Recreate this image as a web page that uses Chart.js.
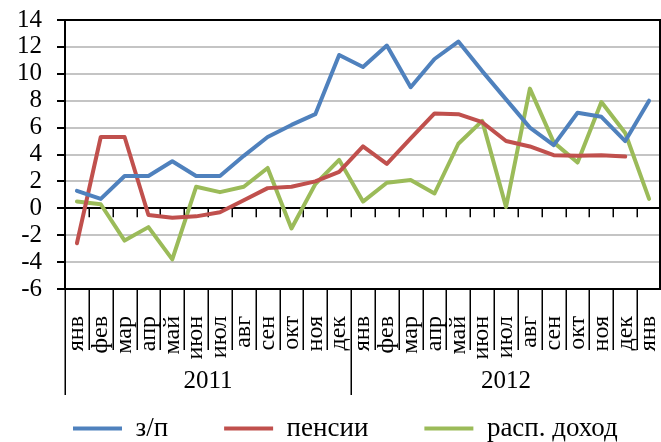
<!DOCTYPE html>
<html lang="ru">
<head>
<meta charset="utf-8">
<title>з/п, пенсии, расп. доход</title>
<script src="https://cdn.jsdelivr.net/npm/chart.js@4.4.1/dist/chart.umd.min.js"></script>
<style>
  html, body { margin: 0; padding: 0; background: #fff; }
  #wrap { width: 661px; height: 442px; }
</style>
</head>
<body>
<div id="wrap"><canvas id="chart"></canvas></div>
<script>
// Месяцы (янв 2011 - янв 2013)
const months = ['янв', 'фев', 'мар', 'апр', 'май', 'июн', 'июл', 'авг', 'сен', 'окт', 'ноя', 'дек',
                'янв', 'фев', 'мар', 'апр', 'май', 'июн', 'июл', 'авг', 'сен', 'окт', 'ноя', 'дек', 'янв'];
// Группы по годам: подпись, первый и последний индекс месяца
const years = ['2011', '2012'];
const yearFirst = [0, 12];
const yearLast = [11, 24];

// Значения рядов, %
const zp = [1.3, 0.7, 2.4, 2.4, 3.5, 2.4, 2.4, 3.9, 5.3, 6.2, 7.0, 11.4,
            10.5, 12.1, 9.0, 11.1, 12.4, 10.2, 8.1, 6.0, 4.7, 7.1, 6.8, 5.0, 8.0];
const pensii = [-2.6, 5.3, 5.3, -0.5, -0.7, -0.6, -0.3, 0.6, 1.5, 1.6, 2.0, 2.7,
                4.6, 3.3, 5.2, 7.05, 7.0, 6.4, 5.0, 4.6, 3.95, 3.9, 3.95, 3.85, null];
const dohod = [0.5, 0.3, -2.4, -1.4, -3.8, 1.6, 1.2, 1.6, 3.0, -1.5, 1.8, 3.6,
               0.5, 1.9, 2.1, 1.1, 4.8, 6.5, 0.1, 8.9, 4.9, 3.4, 7.9, 5.6, 0.7];

// Ось Y
const yMin = -6;
const yMax = 14;
const yStep = 2;

const FONT = '"Liberation Serif", "Times New Roman", serif';

// Рамка, засечки на нуле, разделители месяцев и подписи годов
const axisExtras = {
    id: 'axisExtras',
    afterLayout(chart) {
        // сдвигаем легенду на место (в одну строку)
        const lg = chart.legend;
        lg.left = 73 - lg.options.labels.padding;
        lg.right = 1200;
        lg.top = 415 - lg.options.labels.padding;
    },
    beforeDatasetsDraw(chart) {
        const { ctx, chartArea: a, scales: { x, y } } = chart;
        const step = x.getPixelForValue(1) - x.getPixelForValue(0);
        const y0 = y.getPixelForValue(0);
        ctx.save();
        ctx.strokeStyle = '#000';
        ctx.lineWidth = 2;
        ctx.beginPath();
        ctx.moveTo(a.right - 1, a.top);
        ctx.lineTo(a.right - 1, a.bottom);
        ctx.stroke();

        ctx.lineWidth = 1.5;
        ctx.beginPath();
        months.forEach((m, i) => {
            const bx = Math.round(x.getPixelForValue(i) - step / 2) + 0.25;
            if (i > 0) {
                ctx.moveTo(bx, y0);
                ctx.lineTo(bx, y0 + 9);
            }
            const isYear = yearFirst.includes(i);
            ctx.moveTo(bx, a.bottom);
            ctx.lineTo(bx, a.bottom + (isYear ? 106 : 61));
        });
        ctx.stroke();

        ctx.fillStyle = '#000';
        ctx.font = '25px ' + FONT;
        ctx.textAlign = 'center';
        ctx.textBaseline = 'middle';
        years.forEach((yr, k) => {
            const cx = (x.getPixelForValue(yearFirst[k]) + x.getPixelForValue(yearLast[k])) / 2;
            ctx.fillText(yr, cx, 381);
        });
        ctx.restore();
    }
};

function lineSet(label, data, color) {
    return {
        label: label,
        data: data,
        borderColor: color,
        backgroundColor: color,
        borderWidth: 4,
        borderCapStyle: 'round',
        borderJoinStyle: 'round',
        pointRadius: 0,
        tension: 0,
        fill: false
    };
}

new Chart(document.getElementById('chart'), {
    type: 'line',
    data: {
        labels: months,
        datasets: [
            lineSet('з/п', zp, '#4f81bd'),
            lineSet('пенсии', pensii, '#c0504d'),
            lineSet('расп. доход', dohod, '#9bbb59')
        ]
    },
    options: {
        responsive: true,
        maintainAspectRatio: false,
        animation: false,
        layout: { padding: { top: 20, right: 0, left: 0, bottom: 0 } },
        plugins: {
            title: { display: false },
            tooltip: { enabled: false },
            legend: {
                position: 'bottom',
                align: 'start',
                maxHeight: 60,
                labels: {
                    color: '#000',
                    font: { family: FONT, size: 27 },
                    usePointStyle: true,
                    pointStyle: 'line',
                    pointStyleWidth: 49,
                    padding: 56
                }
            }
        },
        scales: {
            x: {
                offset: true,
                grid: { display: false },
                border: { display: false },
                ticks: {
                    color: '#000',
                    font: { family: FONT, size: 24 },
                    minRotation: 90,
                    maxRotation: 90,
                    autoSkip: false,
                    padding: 19
                },
                afterFit(scale) {
                    scale.height = 93;
                    scale.paddingLeft = 0;
                    scale.paddingRight = 0;
                }
            },
            y: {
                min: yMin,
                max: yMax,
                ticks: {
                    stepSize: yStep,
                    autoSkip: false,
                    color: '#000',
                    font: { family: FONT, size: 25 },
                    padding: 15
                },
                border: { color: '#000', width: 2 },
                grid: {
                    color: c => (c.tick && (c.tick.value === 0 || c.tick.value === yMin || c.tick.value === yMax)) ? '#000' : '#c4c4c4',
                    lineWidth: 2,
                    tickColor: '#000',
                    tickLength: 8
                },
                afterFit(scale) {
                    scale.width = 65;
                    scale.paddingTop = 0;
                    scale.paddingBottom = 0;
                }
            }
        }
    },
    plugins: [axisExtras]
});
</script>
</body>
</html>
